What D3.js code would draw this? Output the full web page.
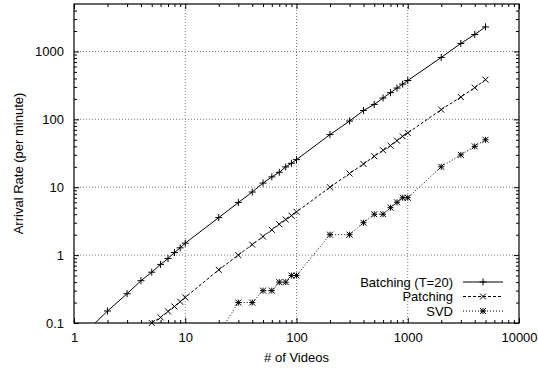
<!DOCTYPE html>
<html>
<head>
<meta charset="utf-8">
<script src="https://cdn.jsdelivr.net/npm/d3@7"></script>
<style>
  body { margin: 0; background: #fff; }
  svg text { font-family: "Liberation Sans", Arial, Helvetica, sans-serif; font-size: 13px; fill: #000; }
</style>
</head>
<body>
<svg id="chart" width="538" height="373"></svg>
<script>
// Arrival rate needed per scheme, by number of videos
const batchingVideos = [1, 2, 3, 4, 5, 6, 7, 8, 9, 10, 20, 30, 40, 50, 60, 70, 80, 90, 100,
  200, 300, 400, 500, 600, 700, 800, 900, 1000, 2000, 3000, 4000, 5000];
const batchingRate = [0.05, 0.15, 0.27, 0.42, 0.56, 0.73, 0.89, 1.09, 1.28, 1.5, 3.57, 5.94, 8.5, 11.5, 14.2, 16.6, 19.9, 22.5, 25.5,
  59.6, 94.4, 135, 166, 206, 247, 289, 330, 373, 816, 1311, 1778, 2300];

const patchingVideos = [5, 6, 7, 8, 9, 10, 20, 30, 40, 50, 60, 70, 80, 90, 100,
  200, 300, 400, 500, 600, 700, 800, 900, 1000, 2000, 3000, 4000, 5000];
const patchingRate = [0.1, 0.121, 0.148, 0.175, 0.206, 0.238, 0.608, 1.0, 1.43, 1.88, 2.36, 2.86, 3.34, 3.82, 4.33,
  10, 15.9, 22, 28.6, 35, 41, 48.6, 56.2, 63, 139, 213, 293, 384];

const svdVideos = [20, 30, 40, 50, 60, 70, 80, 90, 100,
  200, 300, 400, 500, 600, 700, 800, 900, 1000, 2000, 3000, 4000, 5000];
const svdRate = [0.07, 0.2, 0.2, 0.3, 0.3, 0.4, 0.4, 0.5, 0.5,
  2, 2, 3, 4, 4, 5, 6, 7, 7, 20, 30, 40, 50];

const seriesNames = ["Batching (T=20)", "Patching", "SVD"];

const xTickValues = [1, 10, 100, 1000, 10000];
const xTickLabels = ["1", "10", "100", "1000", "10000"];
const yTickValues = [0.1, 1, 10, 100, 1000];
const yTickLabels = ["0.1", "1", "10", "100", "1000"];

const xTitle = "# of Videos";
const yTitle = "Arrival Rate (per minute)";

// ---- layout ----
const svg = d3.select("#chart");
const plotL = 74, plotR = 519, plotT = 4, plotB = 323;

const x = d3.scaleLog().domain([1, 10000]).range([plotL, plotR]);
const y = d3.scaleLog().domain([0.1, 5000]).range([plotB, plotT]);

// minor tick positions: 2..9 within each decade
function minorTicks(domain) {
  const out = [];
  const lo = Math.floor(Math.log10(domain[0])), hi = Math.ceil(Math.log10(domain[1]));
  for (let e = lo; e < hi; e++) {
    for (let m = 2; m <= 9; m++) {
      const v = m * Math.pow(10, e);
      if (v > domain[0] && v < domain[1]) out.push(v);
    }
  }
  return out;
}
const xMinor = minorTicks(x.domain());
const yMinor = minorTicks(y.domain());

// ---- grid ----
const grid = svg.append("g").attr("stroke", "#555").attr("stroke-width", 0.8)
  .attr("stroke-dasharray", "1,2").attr("fill", "none");
xTickValues.filter(v => v > 1 && v < 10000).forEach(v => {
  grid.append("line").attr("x1", x(v)).attr("x2", x(v)).attr("y1", plotT).attr("y2", plotB);
});
yTickValues.filter(v => v > 0.1).forEach(v => {
  grid.append("line").attr("x1", plotL).attr("x2", plotR).attr("y1", y(v)).attr("y2", y(v));
});

// ---- axes (ticks point inward on all four sides) ----
const MAJ = 5, MIN = 3;
function styleAxis(g) {
  g.select(".domain").remove();
  g.selectAll(".tick line").attr("stroke", "#000").attr("stroke-width", 1);
  g.selectAll("text").attr("fill", "#000").attr("font-size", 13)
    .attr("font-family", "'Liberation Sans', Arial, sans-serif");
}

svg.append("g").attr("transform", `translate(0,${plotB})`)
  .call(d3.axisBottom(x).tickValues(xTickValues).tickFormat((d, i) => xTickLabels[i]).tickSizeInner(-MAJ).tickSizeOuter(0).tickPadding(10))
  .call(styleAxis);
svg.append("g").attr("transform", `translate(0,${plotB})`)
  .call(d3.axisBottom(x).tickValues(xMinor).tickFormat("").tickSizeInner(-MIN).tickSizeOuter(0))
  .call(styleAxis);
svg.append("g").attr("transform", `translate(0,${plotT})`)
  .call(d3.axisTop(x).tickValues(xTickValues).tickFormat("").tickSizeInner(-MAJ).tickSizeOuter(0))
  .call(styleAxis);
svg.append("g").attr("transform", `translate(0,${plotT})`)
  .call(d3.axisTop(x).tickValues(xMinor).tickFormat("").tickSizeInner(-MIN).tickSizeOuter(0))
  .call(styleAxis);

svg.append("g").attr("transform", `translate(${plotL},0)`)
  .call(d3.axisLeft(y).tickValues(yTickValues).tickFormat((d, i) => yTickLabels[i]).tickSizeInner(-MAJ).tickSizeOuter(0).tickPadding(10))
  .call(styleAxis);
svg.append("g").attr("transform", `translate(${plotL},0)`)
  .call(d3.axisLeft(y).tickValues(yMinor).tickFormat("").tickSizeInner(-MIN).tickSizeOuter(0))
  .call(styleAxis);
svg.append("g").attr("transform", `translate(${plotR},0)`)
  .call(d3.axisRight(y).tickValues(yTickValues).tickFormat("").tickSizeInner(-MAJ).tickSizeOuter(0))
  .call(styleAxis);
svg.append("g").attr("transform", `translate(${plotR},0)`)
  .call(d3.axisRight(y).tickValues(yMinor).tickFormat("").tickSizeInner(-MIN).tickSizeOuter(0))
  .call(styleAxis);

// ---- border ----
svg.append("rect").attr("x", plotL).attr("y", plotT)
  .attr("width", plotR - plotL).attr("height", plotB - plotT)
  .attr("fill", "none").attr("stroke", "#000").attr("stroke-width", 1.2);

// ---- axis titles ----
svg.append("text").attr("x", (plotL + plotR) / 2).attr("y", 362)
  .attr("text-anchor", "middle").text(xTitle);
svg.append("text").attr("transform", `translate(22.5,${(plotT + plotB) / 2}) rotate(-90)`)
  .attr("text-anchor", "middle").text(yTitle);

// ---- series ----
const markerPath = {
  plus: s => `M${-s},0H${s}M0,${-s}V${s}`,
  cross: s => `M${-s},${-s}L${s},${s}M${-s},${s}L${s},${-s}`,
  star: s => `M${-s},0H${s}M0,${-s}V${s}M${-s},${-s}L${s},${s}M${-s},${s}L${s},${-s}`
};

const series = [
  { name: seriesNames[0], xs: batchingVideos, ys: batchingRate, dash: null, marker: "plus", size: 3.5 },
  { name: seriesNames[1], xs: patchingVideos, ys: patchingRate, dash: "3,2", marker: "cross", size: 3 },
  { name: seriesNames[2], xs: svdVideos, ys: svdRate, dash: "1,2", marker: "star", size: 3 }
];

svg.append("clipPath").attr("id", "plot-clip")
  .append("rect").attr("x", plotL).attr("y", plotT).attr("width", plotR - plotL).attr("height", plotB - plotT);

const line = d3.line().x(d => x(d[0])).y(d => y(d[1]));
const yDom = y.domain();

series.forEach(s => {
  const pts = s.xs.map((v, i) => [v, s.ys[i]]);
  svg.append("path").datum(pts)
    .attr("d", line)
    .attr("clip-path", "url(#plot-clip)")
    .attr("fill", "none").attr("stroke", "#000").attr("stroke-width", 1)
    .attr("stroke-dasharray", s.dash);
  svg.append("g").selectAll("path")
    .data(pts.filter(p => p[1] >= yDom[0] * 0.999 && p[1] <= yDom[1]))
    .join("path")
    .attr("transform", p => `translate(${x(p[0])},${y(p[1])})`)
    .attr("d", markerPath[s.marker](s.size))
    .attr("fill", "none").attr("stroke", "#000").attr("stroke-width", 1);
});

// ---- legend ----
const legendY = [282, 296.5, 311];
const legendTextX = 453, sampleX1 = 463, sampleX2 = 503;
series.forEach((s, i) => {
  const g = svg.append("g");
  g.append("text").attr("x", legendTextX).attr("y", legendY[i]).attr("dy", "0.35em")
    .attr("text-anchor", "end").text(s.name);
  g.append("line").attr("x1", sampleX1).attr("x2", sampleX2)
    .attr("y1", legendY[i]).attr("y2", legendY[i])
    .attr("stroke", "#000").attr("stroke-width", 1).attr("stroke-dasharray", s.dash);
  g.append("path").attr("transform", `translate(${(sampleX1 + sampleX2) / 2},${legendY[i]})`)
    .attr("d", markerPath[s.marker](s.size))
    .attr("fill", "none").attr("stroke", "#000").attr("stroke-width", 1);
});
</script>
</body>
</html>
